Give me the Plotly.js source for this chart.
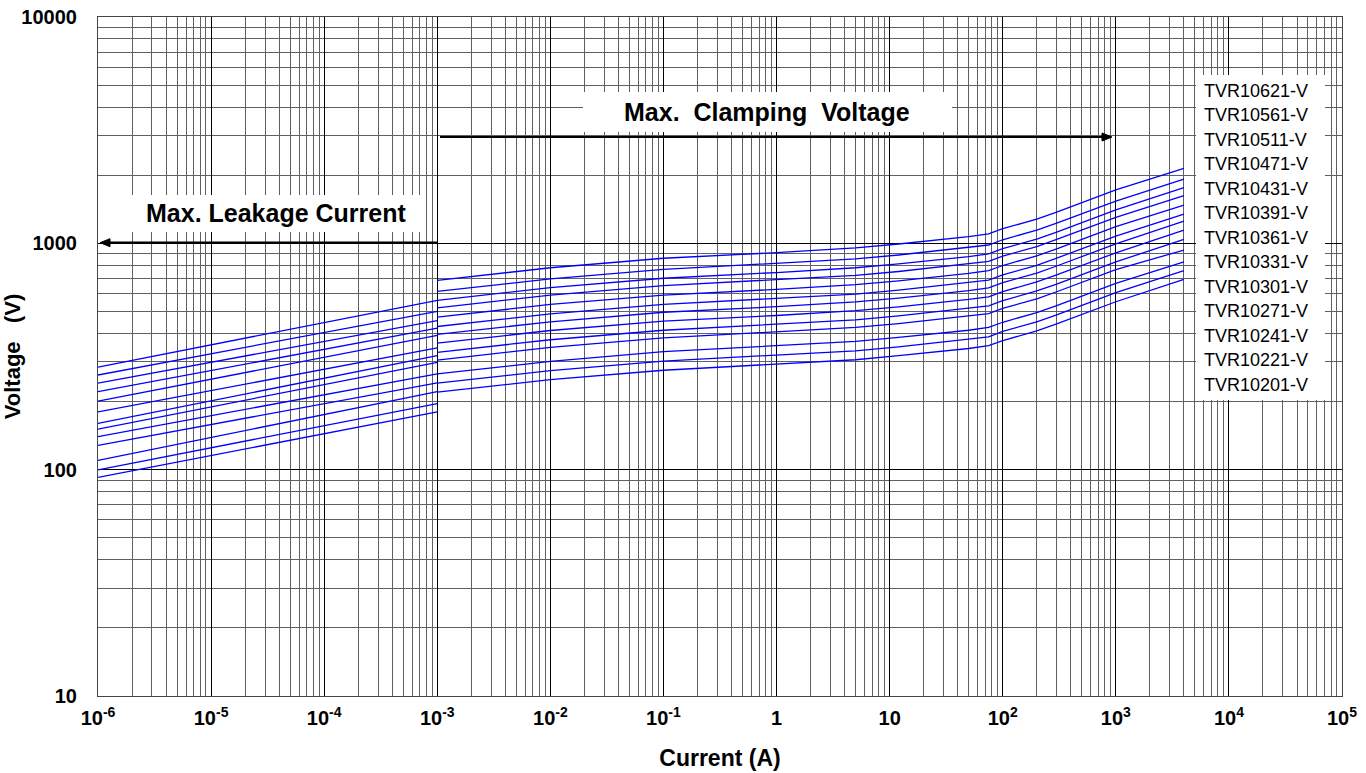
<!DOCTYPE html>
<html>
<head>
<meta charset="utf-8">
<script src="https://cdn.plot.ly/plotly-3.0.1.min.js"></script>
<style>
  html, body { margin: 0; padding: 0; background: #ffffff; }
  #chart { width: 1366px; height: 773px; }
</style>
</head>
<body>
<div id="chart"></div>
<script>
// ---------------- DATA ----------------
const seriesNames = ['TVR10621-V', 'TVR10561-V', 'TVR10511-V', 'TVR10471-V', 'TVR10431-V',
  'TVR10391-V', 'TVR10361-V', 'TVR10331-V', 'TVR10301-V', 'TVR10271-V',
  'TVR10241-V', 'TVR10221-V', 'TVR10201-V'];

// Max. leakage current region (A)
const leakCurrent = [1e-6, 1e-3];
const leakVoltage = [
  [284, 560], [262, 501], [241, 456], [221, 422], [201, 392],
  [180, 345], [160, 319], [151, 298], [140, 265], [128, 242],
  [110, 221], [99.7, 196], [92.5, 180]
];

// Max. clamping voltage region (A)
const clampCurrent = [0.001, 0.01, 0.1, 1, 5, 12, 50, 75, 100, 200, 300, 1000, 4000];
const clampVoltage = [
  [686, 780, 859, 910, 955, 993, 1070, 1100, 1160, 1280, 1375, 1721, 2145],
  [613, 697, 767, 813, 853, 888, 956, 983, 1037, 1144, 1229, 1538, 1923],
  [560, 637, 701, 743, 780, 811, 874, 898, 947, 1045, 1122, 1405, 1761],
  [519, 590, 650, 689, 722, 751, 810, 832, 878, 968, 1040, 1302, 1623],
  [472, 537, 591, 626, 657, 683, 736, 757, 798, 880, 945, 1184, 1476],
  [429, 488, 537, 569, 597, 621, 669, 688, 725, 800, 860, 1076, 1347],
  [396, 450, 496, 525, 551, 573, 618, 635, 670, 739, 794, 994, 1254],
  [362, 412, 453, 480, 504, 524, 565, 580, 612, 675, 725, 908, 1145],
  [330, 375, 413, 438, 459, 478, 515, 529, 558, 616, 661, 828, 1041],
  [305, 347, 382, 405, 425, 442, 476, 489, 516, 569, 611, 765, 934],
  [265, 301, 332, 352, 369, 384, 413, 425, 448, 494, 531, 665, 829],
  [241, 274, 302, 320, 335, 349, 376, 386, 408, 450, 483, 605, 757],
  [220, 250, 275, 292, 306, 319, 343, 353, 372, 410, 441, 552, 693]
];

const xTickVals = [1e-6, 1e-5, 1e-4, 1e-3, 1e-2, 1e-1, 1, 10, 1e2, 1e3, 1e4, 1e5];
const xTickText = ['10<sup>-6</sup>', '10<sup>-5</sup>', '10<sup>-4</sup>', '10<sup>-3</sup>',
  '10<sup>-2</sup>', '10<sup>-1</sup>', '1', '10', '10<sup>2</sup>', '10<sup>3</sup>',
  '10<sup>4</sup>', '10<sup>5</sup>'];
const yTickVals = [10, 100, 1000, 10000];
const yTickText = ['10', '100', '1000', '10000'];

const xTitle = 'Current (A)';
const yTitle = 'Voltage   (V)';
const leakLabel = 'Max. Leakage Current';
const clampLabel = 'Max.  Clamping  Voltage';

// ---------------- BUILD ----------------
const FONT = 'Liberation Sans, Arial, Helvetica, sans-serif';

const traces = seriesNames.map((name, i) => ({
  type: 'scatter',
  mode: 'lines',
  name: name,
  x: leakCurrent.concat([null], clampCurrent),
  y: leakVoltage[i].concat([null], clampVoltage[i]),
  connectgaps: false,
  line: { color: '#0000ff', width: 1.3 },
  showlegend: false,
  hoverinfo: 'x+y+name'
}));

// plot area in pixels: left 98, right 1342, top 17, bottom 696
const PL = 98, PR = 1342, PT = 17, PB = 696;
const px = v => (v - PL) / (PR - PL);
const py = v => (PB - v) / (PB - PT);

const annotations = [];
const shapes = [];

// legend box (white) and labels
shapes.push({ type: 'rect', xref: 'paper', yref: 'paper', x0: px(1196), x1: px(1325), y0: py(400), y1: py(75),
  fillcolor: '#ffffff', line: { width: 0 }, layer: 'above' });
seriesNames.forEach((name, i) => {
  annotations.push({ xref: 'paper', yref: 'paper', x: px(1202), y: py(90.7 + 24.5 * i),
    xanchor: 'left', yanchor: 'middle', text: name, showarrow: false,
    font: { family: FONT, size: 18, color: '#000000' } });
});

// label boxes
shapes.push({ type: 'rect', xref: 'paper', yref: 'paper', x0: px(115), x1: px(425), y0: py(232), y1: py(195),
  fillcolor: '#ffffff', line: { width: 0 }, layer: 'above' });
shapes.push({ type: 'rect', xref: 'paper', yref: 'paper', x0: px(583), x1: px(952), y0: py(132), y1: py(92),
  fillcolor: '#ffffff', line: { width: 0 }, layer: 'above' });

annotations.push({ xref: 'paper', yref: 'paper', x: px(276), y: py(213), text: '<b>' + leakLabel + '</b>',
  showarrow: false, xanchor: 'center', yanchor: 'middle', font: { family: FONT, size: 25, color: '#000' } });
annotations.push({ xref: 'paper', yref: 'paper', x: px(767), y: py(112), text: '<b>' + clampLabel + '</b>',
  showarrow: false, xanchor: 'center', yanchor: 'middle', font: { family: FONT, size: 25, color: '#000' } });

// arrows drawn as shapes (shaft + filled head)
function arrow(xTail, xTip, yPix) {
  const dir = xTip > xTail ? 1 : -1;
  const xBase = xTip - dir * 10;
  shapes.push({ type: 'line', xref: 'paper', yref: 'paper', x0: px(xTail), x1: px(xBase),
    y0: py(yPix), y1: py(yPix), line: { color: '#000', width: 2.2 }, layer: 'above' });
  shapes.push({ type: 'path', xref: 'paper', yref: 'paper', layer: 'above',
    path: 'M ' + px(xTip) + ' ' + py(yPix) + ' L ' + px(xBase) + ' ' + py(yPix - 4) +
          ' L ' + px(xBase) + ' ' + py(yPix + 4) + ' Z',
    fillcolor: '#000', line: { color: '#000', width: 1 } });
}
arrow(437, 100, 242.7);
arrow(440, 1112, 137);

const layout = {
  width: 1366, height: 773,
  margin: { l: PL, r: 1366 - PR, t: PT, b: 773 - PB, pad: 0 },
  paper_bgcolor: '#ffffff', plot_bgcolor: '#ffffff',
  showlegend: false,
  font: { family: FONT, color: '#000000' },
  xaxis: {
    type: 'log', range: [-6, 5], autorange: false,
    tickmode: 'array', tickvals: xTickVals, ticktext: xTickText,
    tickfont: { family: FONT, size: 20, color: '#000', weight: 'bold' },
    ticks: 'outside', ticklen: 4, tickcolor: 'rgba(0,0,0,0)',
    showgrid: true, gridcolor: '#000000', gridwidth: 1.4,
    minor: { dtick: 'D1', showgrid: true, gridcolor: '#606060', gridwidth: 1.1, ticks: '' },
    zeroline: false, showline: true, mirror: true, linecolor: '#444', linewidth: 1.2,
    title: { text: xTitle, font: { family: FONT, size: 23, color: '#000', weight: 'bold' }, standoff: 21 }
  },
  yaxis: {
    type: 'log', range: [1, 4], autorange: false,
    tickmode: 'array', tickvals: yTickVals, ticktext: yTickText,
    tickfont: { family: FONT, size: 20, color: '#000', weight: 'bold' },
    ticks: 'outside', ticklen: 16, tickcolor: 'rgba(0,0,0,0)',
    showgrid: true, gridcolor: '#000000', gridwidth: 1.4,
    minor: { dtick: 'D1', showgrid: true, gridcolor: '#606060', gridwidth: 1.1, ticks: '' },
    zeroline: false, showline: true, mirror: true, linecolor: '#444', linewidth: 1.2,
    title: { text: yTitle, font: { family: FONT, size: 22, color: '#000', weight: 'bold' }, standoff: 0 }
  },
  shapes: shapes,
  annotations: annotations
};

Plotly.newPlot('chart', traces, layout, { displayModeBar: false });
</script>
</body>
</html>
